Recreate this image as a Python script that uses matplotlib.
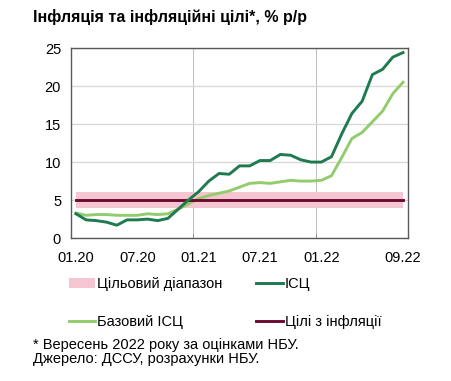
import matplotlib.pyplot as plt
import numpy as np

plt.rcParams['font.family'] = ['Liberation Sans', 'DejaVu Sans']

# monthly values, 01.20 .. 09.22
months = ['01.20', '02.20', '03.20', '04.20', '05.20', '06.20', '07.20', '08.20', '09.20', '10.20', '11.20', '12.20',
          '01.21', '02.21', '03.21', '04.21', '05.21', '06.21', '07.21', '08.21', '09.21', '10.21', '11.21', '12.21',
          '01.22', '02.22', '03.22', '04.22', '05.22', '06.22', '07.22', '08.22', '09.22']
cpi = [3.2, 2.4, 2.3, 2.1, 1.7, 2.4, 2.4, 2.5, 2.3, 2.6, 3.8, 5.0,
       6.1, 7.5, 8.5, 8.4, 9.5, 9.5, 10.2, 10.2, 11.0, 10.9, 10.3, 10.0,
       10.0, 10.7, 13.7, 16.4, 18.0, 21.5, 22.2, 23.8, 24.4]
core = [3.3, 3.0, 3.1, 3.1, 3.0, 3.0, 3.0, 3.2, 3.1, 3.2, 3.8, 4.5,
        5.2, 5.6, 5.9, 6.2, 6.7, 7.2, 7.3, 7.2, 7.4, 7.6, 7.5, 7.5,
        7.6, 8.2, 10.6, 13.1, 13.9, 15.3, 16.7, 19.0, 20.5]
target = 5
band_low, band_high = 4, 6
tick_labels = ['01.20', '07.20', '01.21', '07.21', '01.22', '09.22']

x = np.arange(len(months))

fig = plt.figure(figsize=(4.51, 3.81), dpi=100)
ax = fig.add_axes([0.157, 0.375, 0.748, 0.499])

ax.fill_between(x, band_low, band_high, color='#f5c6d1', lw=0, label='Цільовий діапазон', zorder=2)
ax.plot(x, cpi, color='#1f7a4f', lw=2.1, label='ІСЦ', zorder=4)
ax.plot(x, core, color='#92cc6c', lw=2.1, label='Базовий ІСЦ', zorder=3)
ax.plot(x, [target] * len(x), color='#6b0b30', lw=2.1, label='Цілі з інфляції', zorder=3)

ax.set_xlim(-0.5, len(x) - 0.5)
ax.set_ylim(0, 25)
ax.set_yticks([0, 5, 10, 15, 20, 25])
ax.set_xticks([months.index(t) for t in tick_labels])
ax.set_xticklabels(tick_labels)
ax.set_xticks([11.5, 23.5], minor=True)
ax.tick_params(axis='both', which='major', length=0, labelsize=10.5, colors='black')
ax.tick_params(axis='x', which='major', pad=9)
ax.tick_params(axis='y', which='major', pad=7)
ax.tick_params(axis='x', which='minor', length=3, color='#808080', direction='in')
ax.grid(axis='y', color='#d9d9d9', lw=1.0, zorder=0)
ax.grid(axis='x', which='minor', color='#bfbfbf', lw=0.7, zorder=0)
for s in ax.spines.values():
    s.set_color('#595959')
    s.set_linewidth(1.0)

fig.text(0.073, 0.955, 'Інфляція та інфляційні цілі*, % р/р', fontsize=11.5, fontweight='bold', va='center')

h, l = ax.get_legend_handles_labels()
order = [0, 2, 1, 3]
fig.legend([h[i] for i in order], [l[i] for i in order], ncol=2, loc='upper left',
           bbox_to_anchor=(0.153, 0.272), frameon=False, borderpad=0, borderaxespad=0,
           fontsize=10.5, handlelength=1.8, handletextpad=0.15, columnspacing=2.3, labelspacing=1.6)

fig.text(0.073, 0.095, '* Вересень 2022 року за оцінками НБУ.', fontsize=10.5, va='center')
fig.text(0.073, 0.058, 'Джерело: ДССУ, розрахунки НБУ.', fontsize=10.5, va='center')

fig.savefig('out.png', dpi=100)
